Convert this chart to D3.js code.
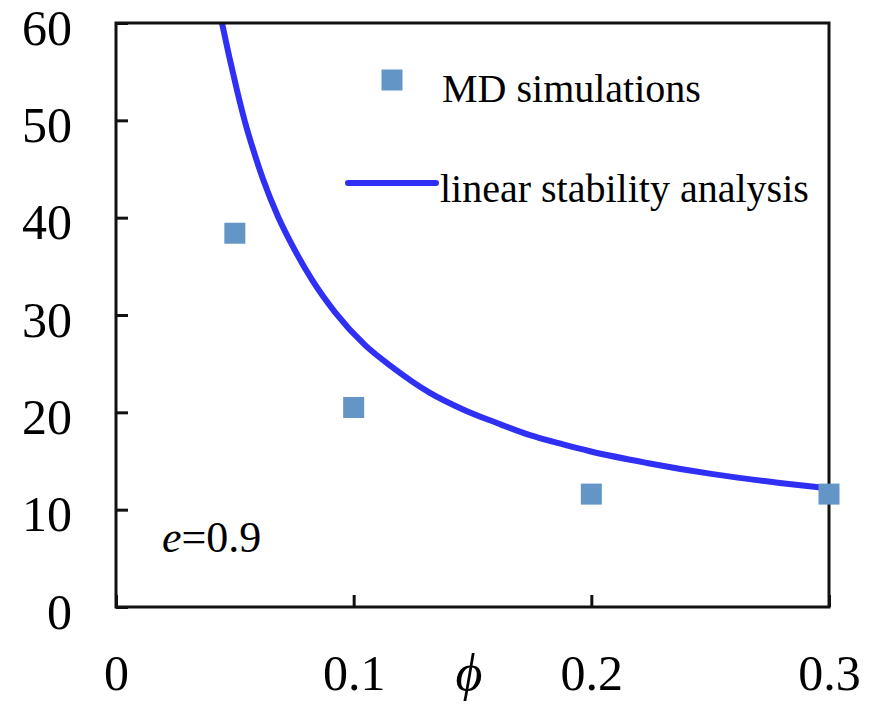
<!DOCTYPE html>
<html>
<head>
<meta charset="utf-8">
<script src="https://cdn.jsdelivr.net/npm/d3@7"></script>
<style>
  html, body { margin: 0; padding: 0; background: #fff; }
  svg { display: block; }
  svg text { font-family: "Liberation Serif", "Times New Roman", "DejaVu Serif", serif; fill: #000; }
</style>
</head>
<body>
<svg id="chart" width="877" height="705"></svg>
<script>
// Data
const xTicks = [0, 0.1, 0.2, 0.3];
const xTickLabels = ["0", "0.1", "0.2", "0.3"];
const yTicks = [0, 10, 20, 30, 40, 50, 60];
const yTickLabels = ["0", "10", "20", "30", "40", "50", "60"];

const mdPhi = [0.05, 0.1, 0.2, 0.3];
const mdValue = [38.4, 20.5, 11.6, 11.6];

const lsaPhi = [0.0446, 0.0475, 0.0509, 0.0543, 0.0585, 0.0618, 0.0682, 0.0745, 0.0825, 0.0921, 0.1048, 0.1165, 0.1321, 0.1460, 0.1603, 0.1742, 0.1881, 0.1994, 0.2234, 0.2512, 0.2793, 0.2995];
const lsaValue = [60.0, 56.7, 53.1, 49.8, 46.4, 44.0, 40.1, 37.0, 33.6, 30.3, 26.9, 24.6, 22.0, 20.3, 18.9, 17.65, 16.7, 16.0, 14.8, 13.65, 12.75, 12.2];

const legendLabels = ["MD simulations", "linear stability analysis"];
const annotation = { italic: "e", rest: "=0.9" };
const xTitle = "\u03D5";

const FONT = '"Liberation Serif", "Times New Roman", "DejaVu Serif", serif';

const svg = d3.select("#chart");
const L = 116, R = 829, T = 23, B = 607;

const x = d3.scaleLinear().domain([0, 0.3]).range([L, R]);
const y = d3.scaleLinear().domain([0, 60]).range([B, T]);

const axisColor = "#111";

svg.append("defs").append("clipPath").attr("id", "plotclip")
  .append("rect").attr("x", L).attr("y", T).attr("width", R - L).attr("height", B - T);

// curve
const line = d3.line().x((d, i) => x(lsaPhi[i])).y((d, i) => y(lsaValue[i])).curve(d3.curveMonotoneX);
svg.append("path")
  .datum(lsaPhi)
  .attr("d", line)
  .attr("clip-path", "url(#plotclip)")
  .attr("fill", "none")
  .attr("stroke", "#3030f4")
  .attr("stroke-width", 6)
  .attr("stroke-linejoin", "round");

// Y axis
const yAxis = d3.axisLeft(y).tickValues(yTicks).tickFormat((d, i) => yTickLabels[i])
  .tickSizeInner(-12).tickSizeOuter(0).tickPadding(44);
const gy = svg.append("g").attr("transform", `translate(${L},0)`).call(yAxis);
gy.attr("font-family", FONT).attr("font-size", 50);
gy.select(".domain").remove();
gy.selectAll(".tick line").attr("stroke", axisColor).attr("stroke-width", 3);
gy.selectAll(".tick text").attr("dy", "0.42em").attr("fill", "#000");

// X axis
const xAxis = d3.axisBottom(x).tickValues(xTicks).tickFormat((d, i) => xTickLabels[i])
  .tickSizeInner(-12).tickSizeOuter(0).tickPadding(47);
const gx = svg.append("g").attr("transform", `translate(0,${B})`).call(xAxis);
gx.attr("font-family", FONT).attr("font-size", 50);
gx.select(".domain").remove();
gx.selectAll(".tick line").attr("stroke", axisColor).attr("stroke-width", 3);
gx.selectAll(".tick text").attr("dy", "0.71em").attr("fill", "#000");

// frame
svg.append("rect").attr("x", L).attr("y", T).attr("width", R - L).attr("height", B - T)
  .attr("fill", "none").attr("stroke", axisColor).attr("stroke-width", 3);

// squares
const sq = 21;
svg.selectAll("rect.md").data(mdPhi).enter().append("rect")
  .attr("class", "md")
  .attr("x", (d) => x(d) - sq / 2)
  .attr("y", (d, i) => y(mdValue[i]) - sq / 2)
  .attr("width", sq).attr("height", sq)
  .attr("fill", "#6396c6");

// x title
svg.append("text").attr("x", 469).attr("y", 690).attr("text-anchor", "middle")
  .attr("font-family", FONT).attr("font-size", 52).attr("font-style", "italic").text(xTitle);

// annotation
const ann = svg.append("text").attr("x", 162).attr("y", 552).attr("font-family", FONT).attr("font-size", 44);
ann.append("tspan").attr("font-style", "italic").text(annotation.italic);
ann.append("tspan").text(annotation.rest);

// legend
svg.append("rect").attr("x", 392 - sq / 2).attr("y", 80 - sq / 2).attr("width", sq).attr("height", sq)
  .attr("fill", "#6396c6");
svg.append("text").attr("x", 442).attr("y", 102).attr("font-family", FONT).attr("font-size", 40).text(legendLabels[0]);
svg.append("line").attr("x1", 348).attr("x2", 436).attr("y1", 183).attr("y2", 183)
  .attr("stroke", "#3030f4").attr("stroke-width", 6).attr("stroke-linecap", "round");
svg.append("text").attr("x", 440).attr("y", 202).attr("font-family", FONT).attr("font-size", 40).text(legendLabels[1]);
</script>
</body>
</html>
